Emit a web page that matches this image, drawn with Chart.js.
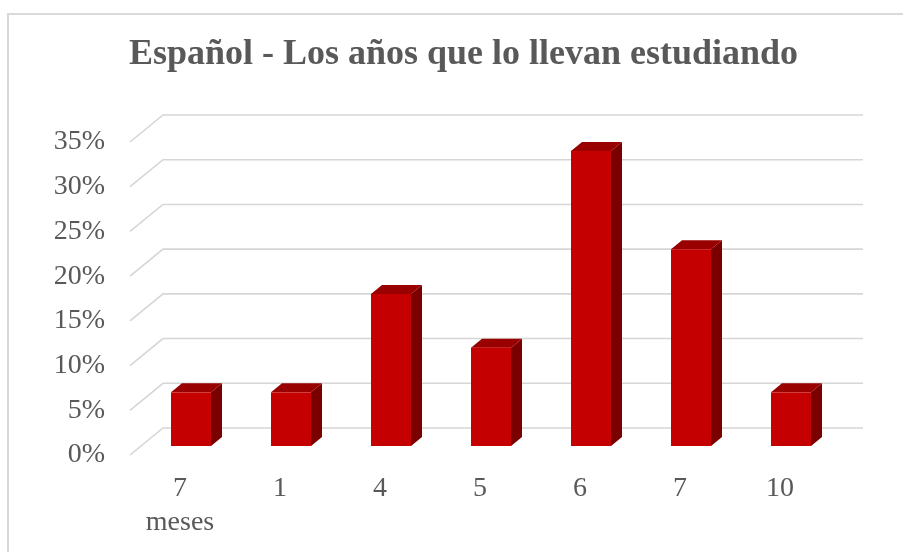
<!DOCTYPE html>
<html>
<head>
<meta charset="utf-8">
<title>Español - Los años que lo llevan estudiando</title>
<script src="https://cdn.jsdelivr.net/npm/chart.js@4/dist/chart.umd.min.js"></script>
<style>
  html, body { margin: 0; padding: 0; background: #fff; overflow: hidden; }
  #wrap { width: 903px; height: 552px; overflow: hidden; }
  canvas { display: block; }
</style>
</head>
<body>
<div id="wrap"><canvas id="c" width="927" height="552"></canvas></div>
<script>
// Years of Spanish study: share of respondents per category
const categories = [['7', 'meses'], '1', '4', '5', '6', '7', '10'];
const shares = [6, 6, 17, 11, 33, 22, 6];
const yTicks = [0, 5, 10, 15, 20, 25, 30, 35];

const FONT = '"Liberation Serif", "Times New Roman", serif';
const TEXT = '#595959';
const GRID = '#d6d6d6';

// Oblique depth of the back wall, and the bar's own depth (a third of it)
const WALL_DX = 33, WALL_DY = 27;
const BAR_DX = WALL_DX / 3, BAR_DY = WALL_DY / 3;

const depth3d = {
  id: 'depth3d',
  beforeDraw(chart) {
    const ctx = chart.ctx;
    ctx.save();
    ctx.fillStyle = '#ffffff';
    ctx.fillRect(0, 0, chart.width, chart.height);
    ctx.strokeStyle = '#d9d9d9';
    ctx.lineWidth = 2;
    ctx.strokeRect(8, 14, chart.width + 20, chart.height + 20);
    ctx.restore();
  },
  beforeDatasetsDraw(chart) {
    const ctx = chart.ctx;
    const { left, right } = chart.chartArea;
    const ys = chart.scales.y;
    ctx.save();
    ctx.strokeStyle = GRID;
    ctx.lineWidth = 1.6;
    ys.ticks.forEach(t => {
      const yf = ys.getPixelForValue(t.value);
      ctx.beginPath();
      ctx.moveTo(left, yf);
      ctx.lineTo(left + WALL_DX, yf - WALL_DY);
      ctx.lineTo(right + WALL_DX, yf - WALL_DY);
      ctx.stroke();
    });
    ctx.restore();
  },
  afterDatasetsDraw(chart) {
    const ctx = chart.ctx;
    const meta = chart.getDatasetMeta(0);
    ctx.save();
    meta.data.forEach(bar => {
      const { x, y, base, width } = bar.getProps(['x', 'y', 'base', 'width'], true);
      const l = x - width / 2 + BAR_DX;
      const r = x + width / 2 + BAR_DX;
      const t = y - BAR_DY;
      const b = base - BAR_DY;
      // side face
      ctx.fillStyle = '#7a0000';
      ctx.beginPath();
      ctx.moveTo(r, t);
      ctx.lineTo(r + BAR_DX, t - BAR_DY);
      ctx.lineTo(r + BAR_DX, b - BAR_DY);
      ctx.lineTo(r, b);
      ctx.closePath();
      ctx.fill();
      // top face
      ctx.fillStyle = '#990000';
      ctx.beginPath();
      ctx.moveTo(l, t);
      ctx.lineTo(l + BAR_DX, t - BAR_DY);
      ctx.lineTo(r + BAR_DX, t - BAR_DY);
      ctx.lineTo(r, t);
      ctx.closePath();
      ctx.fill();
      // front face
      ctx.fillStyle = '#c40000';
      ctx.fillRect(l, t, r - l, b - t);
    });
    ctx.restore();
  }
};

new Chart(document.getElementById('c'), {
  type: 'bar',
  data: {
    labels: categories,
    datasets: [{
      data: shares,
      backgroundColor: 'rgba(0,0,0,0)',
      borderWidth: 0,
      barPercentage: 0.4,
      categoryPercentage: 1
    }]
  },
  options: {
    responsive: false,
    devicePixelRatio: 1,
    animation: false,
    layout: { padding: 0 },
    plugins: {
      legend: { display: false },
      tooltip: { enabled: false },
      title: {
        display: true,
        text: 'Español - Los años que lo llevan estudiando',
        color: TEXT,
        font: { family: FONT, size: 36, weight: 'bold', lineHeight: 1.2 },
        padding: { top: 33.4, bottom: 65.4 }
      }
    },
    scales: {
      x: {
        type: 'category',
        grid: { display: false, drawTicks: false },
        border: { display: false },
        ticks: {
          color: TEXT,
          font: { family: FONT, size: 28, lineHeight: 1.2 },
          padding: 17,
          maxRotation: 0,
          autoSkip: false
        },
        afterFit(s) { s.height = 97; }
      },
      y: {
        min: 0,
        max: 35,
        afterBuildTicks(s) { s.ticks = yTicks.map(v => ({ value: v })); },
        grid: { display: false, drawTicks: false },
        border: { display: false },
        ticks: {
          color: TEXT,
          font: { family: FONT, size: 28 },
          padding: 25,
          callback: v => v + '%'
        },
        afterFit(s) { s.width = 130; }
      },
      // empty right-hand margin reserving room for the back wall's depth
      yRight: {
        position: 'right',
        min: 0,
        max: 35,
        grid: { display: false, drawTicks: false },
        border: { display: false },
        ticks: { display: false },
        afterFit(s) { s.width = 97; }
      }
    }
  },
  plugins: [depth3d]
});
</script>
</body>
</html>
